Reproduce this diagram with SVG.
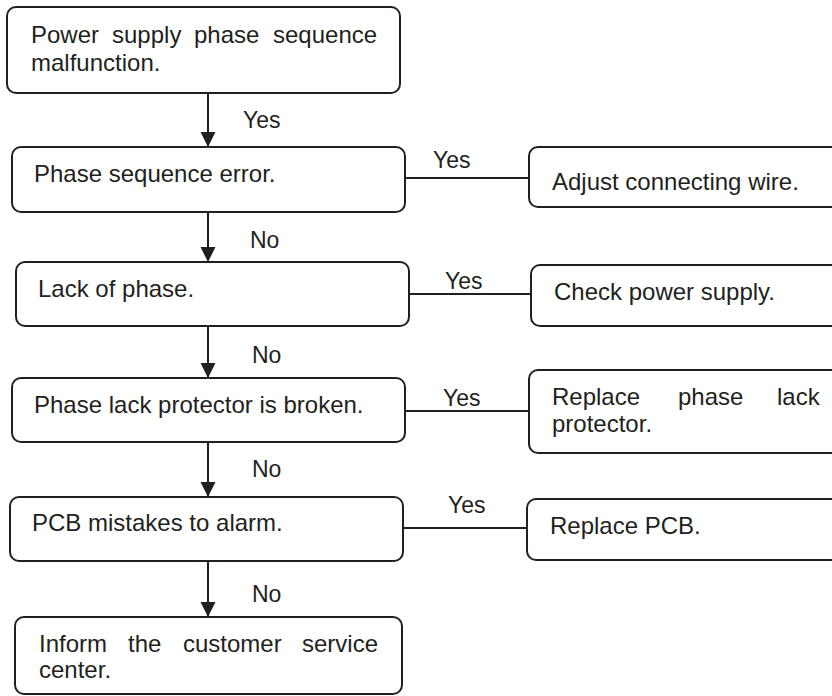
<svg xmlns="http://www.w3.org/2000/svg" width="832" height="696" viewBox="0 0 832 696">
  <defs>
    <marker id="arrow" markerUnits="userSpaceOnUse" markerWidth="16" markerHeight="16" refX="15" refY="7.5" orient="auto">
      <path d="M0,0 L15,7.5 L0,15 Z" fill="#231f20"/>
    </marker>
    <style>
      .box { fill: #ffffff; stroke: #231f20; stroke-width: 2; }
      .t { font-family: "Liberation Sans", Arial, sans-serif; font-size: 24px; fill: #231f20; }
      .lbl { font-family: "Liberation Sans", Arial, sans-serif; font-size: 23px; fill: #231f20; }
      .edge { fill: none; stroke: #231f20; stroke-width: 2; }
    </style>
  </defs>
  <rect width="832" height="696" fill="#ffffff"/>

  <g id="connectors">
    <line class="edge" x1="208" y1="93" x2="208" y2="147" marker-end="url(#arrow)"/>
    <line class="edge" x1="208" y1="212" x2="208" y2="262" marker-end="url(#arrow)"/>
    <line class="edge" x1="208" y1="326" x2="208" y2="378" marker-end="url(#arrow)"/>
    <line class="edge" x1="208" y1="442" x2="208" y2="497" marker-end="url(#arrow)"/>
    <line class="edge" x1="208" y1="561" x2="208" y2="617" marker-end="url(#arrow)"/>
    <line class="edge" x1="405" y1="178" x2="529" y2="178"/>
    <line class="edge" x1="409" y1="294" x2="531" y2="294"/>
    <line class="edge" x1="405" y1="411" x2="529" y2="411"/>
    <line class="edge" x1="403" y1="528" x2="527" y2="528"/>
    <text class="lbl" x="243" y="128">Yes</text>
    <text class="lbl" x="250" y="248">No</text>
    <text class="lbl" x="252" y="363">No</text>
    <text class="lbl" x="252" y="477">No</text>
    <text class="lbl" x="252" y="602">No</text>
    <text class="lbl" x="433" y="168">Yes</text>
    <text class="lbl" x="445" y="289">Yes</text>
    <text class="lbl" x="443" y="406">Yes</text>
    <text class="lbl" x="448" y="513">Yes</text>
  </g>

  <g id="n1">
    <rect class="box" x="7" y="7" width="393" height="86" rx="9"/>
    <text class="t" y="43"><tspan x="31">Power</tspan><tspan x="112">supply</tspan><tspan x="194">phase</tspan><tspan x="273">sequence</tspan></text>
    <text class="t" x="31" y="71">malfunction.</text>
  </g>
  <g id="n2">
    <rect class="box" x="12" y="147" width="393" height="65" rx="9"/>
    <text class="t" x="34" y="182">Phase sequence error.</text>
  </g>
  <g id="n3">
    <rect class="box" x="16" y="262" width="393" height="64" rx="9"/>
    <text class="t" x="38" y="297">Lack of phase.</text>
  </g>
  <g id="n4">
    <rect class="box" x="12" y="378" width="393" height="64" rx="9"/>
    <text class="t" x="34" y="413">Phase lack protector is broken.</text>
  </g>
  <g id="n5">
    <rect class="box" x="10" y="497" width="393" height="64" rx="9"/>
    <text class="t" x="32" y="531">PCB mistakes to alarm.</text>
  </g>
  <g id="n6">
    <rect class="box" x="15" y="617" width="387" height="77" rx="9"/>
    <text class="t" y="652"><tspan x="39">Inform</tspan><tspan x="128">the</tspan><tspan x="183">customer</tspan><tspan x="302">service</tspan></text>
    <text class="t" x="39" y="678">center.</text>
  </g>
  <g id="r1">
    <rect class="box" x="529" y="147" width="320" height="60" rx="9"/>
    <text class="t" x="552" y="190">Adjust connecting wire.</text>
  </g>
  <g id="r2">
    <rect class="box" x="531" y="265" width="320" height="61" rx="9"/>
    <text class="t" x="554" y="300">Check power supply.</text>
  </g>
  <g id="r3">
    <rect class="box" x="529" y="370" width="320" height="83" rx="9"/>
    <text class="t" y="405"><tspan x="552">Replace</tspan><tspan x="678">phase</tspan><tspan x="777">lack</tspan></text>
    <text class="t" x="552" y="432">protector.</text>
  </g>
  <g id="r4">
    <rect class="box" x="527" y="499" width="320" height="61" rx="9"/>
    <text class="t" x="550" y="534">Replace PCB.</text>
  </g>
</svg>
